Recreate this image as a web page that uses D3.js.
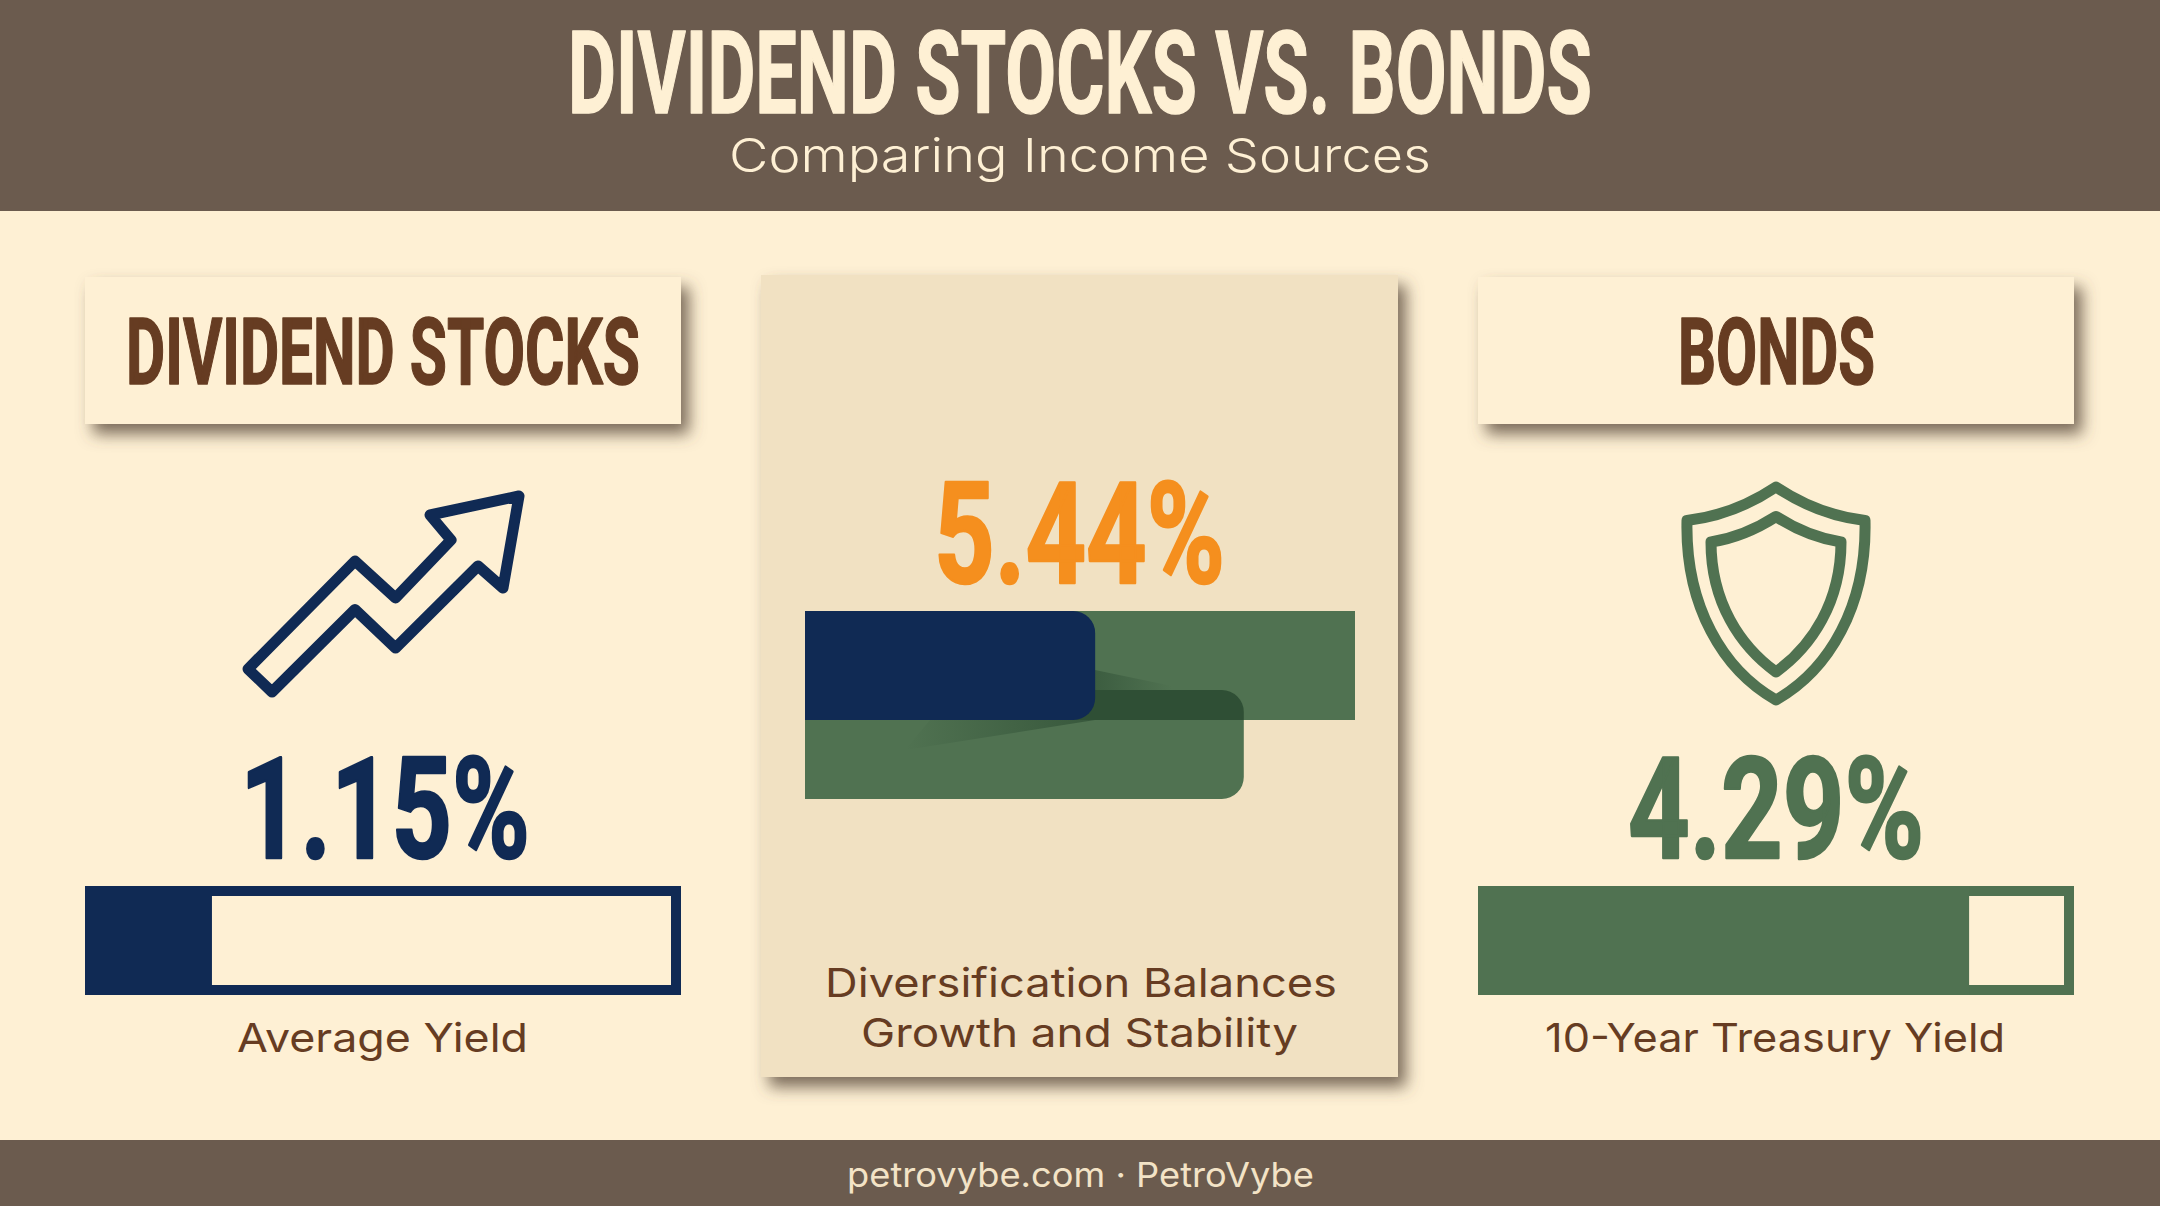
<!DOCTYPE html>
<html>
<head>
<meta charset="utf-8">
<title>Dividend Stocks vs. Bonds</title>
<script src="https://cdn.jsdelivr.net/npm/d3@7"></script>
<style>
  html, body { margin: 0; padding: 0; background: #fdf0d5; }
  svg { display: block; }
</style>
</head>
<body>
<div id="graph"></div>
<script>
// Data ////////////////////////////////////////////////////////////////////////
const categories = ["DIVIDEND STOCKS", "BONDS"];
const yieldLabels = ["1.15%", "4.29%"];
const yieldNames = ["Average Yield", "10-Year Treasury Yield"];
const gaugeShares = [21.3, 82.4]; // percent of the gauge that is filled
const combinedLabel = "5.44%";
const combinedMax = 5.44;
const blendBarValues = [5.44, 4.34, 2.87]; // top green, lower green, navy
const captionLines = ["Diversification Balances", "Growth and Stability"];
const titleText = "DIVIDEND STOCKS VS. BONDS";
const subtitleText = "Comparing Income Sources";
const footerText = "petrovybe.com · PetroVybe";

// Constants ///////////////////////////////////////////////////////////////////
const svgWidth = 2160;
const svgHeight = 1206;

const cream = "#fef0d4";
const tan = "#f1e1c2";
const headerBrown = "#6b5b4e";
const textBrown = "#663c22";
const navy = "#102a54";
const green = "#507251";
const darkGreen = "#2f4f35";
const orange = "#f58f1e";

const condensed = "'Liberation Sans Narrow', Roboto, sans-serif";
const body = "Inter, 'Open Sans', sans-serif";

const svg = d3
  .select("#graph")
  .append("svg")
  .attr("width", svgWidth)
  .attr("height", svgHeight);

// Defs ////////////////////////////////////////////////////////////////////////
const defs = svg.append("defs");

defs
  .append("filter")
  .attr("id", "cardShadow")
  .attr("x", "-10%")
  .attr("y", "-15%")
  .attr("width", "125%")
  .attr("height", "140%")
  .append("feDropShadow")
  .attr("dx", 8)
  .attr("dy", 10)
  .attr("stdDeviation", 8)
  .attr("flood-color", "#5a4a3a")
  .attr("flood-opacity", 0.8);

addFade("fadeLower", 0, 0.75);
addFade("fadeUpper", 0.6, 0);

function addFade(id, from, to) {
  const grad = defs.append("linearGradient").attr("id", id);
  grad.append("stop").attr("offset", "0%").attr("stop-color", darkGreen).attr("stop-opacity", from);
  grad.append("stop").attr("offset", "100%").attr("stop-color", darkGreen).attr("stop-opacity", to);
}

// Background //////////////////////////////////////////////////////////////////
svg.append("rect").attr("width", svgWidth).attr("height", svgHeight).attr("fill", cream);
svg.append("rect").attr("width", svgWidth).attr("height", 211).attr("fill", headerBrown);
svg.append("rect").attr("y", 1140).attr("width", svgWidth).attr("height", 66).attr("fill", headerBrown);

heavy(fitText(svg, titleText, 568, 1592, 113, 115, cream, condensed, 700), cream, 1.5);
fitText(svg, subtitleText, 729, 1431, 172, 47, cream, body, 300);
fitText(svg, footerText, 847, 1314, 1187, 34, "#f3e3c6", body, 400);

// Side columns ////////////////////////////////////////////////////////////////
drawColumn(0, 85, 681, navy);
drawColumn(1, 1478, 2074, green);

function drawColumn(i, left, right, color) {
  const width = right - left;

  svg
    .append("rect")
    .attr("x", left)
    .attr("y", 277)
    .attr("width", width)
    .attr("height", 147)
    .attr("fill", cream)
    .attr("filter", "url(#cardShadow)");

  const headerBox = i === 0 ? [126, 640] : [1678, 1875];
  heavy(fitText(svg, categories[i], headerBox[0], headerBox[1], 384, 92, textBrown, condensed, 700), textBrown, 1.5);

  const valueBox = i === 0 ? [240, 530] : [1628, 1924];
  heavy(fitText(svg, yieldLabels[i], valueBox[0], valueBox[1], 858, 141, color, condensed, 700), color, 2.5);

  // Gauge
  const x = d3.scaleLinear().domain([0, 100]).range([left, right]);

  svg
    .append("rect")
    .attr("x", x(0) + 5)
    .attr("y", 891)
    .attr("width", x(100) - x(0) - 10)
    .attr("height", 99)
    .attr("fill", "none")
    .attr("stroke", color)
    .attr("stroke-width", 10);

  svg
    .append("rect")
    .attr("x", x(0))
    .attr("y", 886)
    .attr("width", x(gaugeShares[i]) - x(0))
    .attr("height", 109)
    .attr("fill", color);

  const nameBox = i === 0 ? [237, 528] : [1545, 2005];
  fitText(svg, yieldNames[i], nameBox[0], nameBox[1], 1052, 40, textBrown, body, 400);
}

// Center card /////////////////////////////////////////////////////////////////
svg
  .append("rect")
  .attr("x", 761)
  .attr("y", 275)
  .attr("width", 637)
  .attr("height", 802)
  .attr("fill", tan)
  .attr("filter", "url(#cardShadow)");

heavy(fitText(svg, combinedLabel, 934, 1225, 583, 141, orange, condensed, 700), orange, 2.5);

const blendX = d3.scaleLinear().domain([0, combinedMax]).range([805, 1355]);

svg
  .append("rect")
  .attr("x", blendX(0))
  .attr("y", 611)
  .attr("width", blendX(blendBarValues[0]) - blendX(0))
  .attr("height", 109)
  .attr("fill", green);

const lowerBar = roundedRight(blendX(0), 690, blendX(blendBarValues[1]), 799, 22);

svg.append("path").attr("d", lowerBar).attr("fill", green);

defs
  .append("clipPath")
  .attr("id", "overlapClip")
  .append("rect")
  .attr("x", blendX(0))
  .attr("y", 690)
  .attr("width", blendX(blendBarValues[0]) - blendX(0))
  .attr("height", 30);

svg
  .append("path")
  .attr("d", lowerBar)
  .attr("fill", darkGreen)
  .attr("clip-path", "url(#overlapClip)");

// soft shadow wedges that fall off the navy bar
const wedge = d3.line();

svg
  .append("path")
  .attr("d", wedge([[905, 750], [1095, 720], [930, 720]]) + "Z")
  .attr("fill", "url(#fadeLower)");

svg
  .append("path")
  .attr("d", wedge([[1095, 670], [1172, 686], [1172, 690], [1095, 690]]) + "Z")
  .attr("fill", "url(#fadeUpper)");

svg
  .append("path")
  .attr("d", roundedRight(blendX(0), 611, blendX(blendBarValues[2]), 720, 22))
  .attr("fill", navy);

fitText(svg, captionLines[0], 825, 1337, 997, 40, textBrown, body, 400);
fitText(svg, captionLines[1], 861, 1298, 1047, 40, textBrown, body, 400);

// Icons ///////////////////////////////////////////////////////////////////////
const arrowShape = [
  [248, 669], [355, 561], [395.5, 598], [451, 540], [430, 515], [519, 496],
  [503, 588], [478, 566], [395.5, 648], [355, 609.5], [272, 692]
];

svg
  .append("path")
  .attr("d", d3.line()(arrowShape) + "Z")
  .attr("fill", "none")
  .attr("stroke", navy)
  .attr("stroke-width", 11)
  .attr("stroke-linejoin", "round");

drawShield(1776, 487, 89, 520.5, 42, 515, 91, 606, 53, 670, 700);
drawShield(1776, 516.5, 65, 542, 32, 537, 65, 602, 36, 646, 672);

function drawShield(cx, top, shoulderW, shoulderY, qx, qy, c1x, c1y, c2x, c2y, bottom) {
  const p = d3.path();
  p.moveTo(cx, top);
  p.quadraticCurveTo(cx + qx, qy, cx + shoulderW, shoulderY);
  p.bezierCurveTo(cx + c1x, c1y, cx + c2x, c2y, cx, bottom);
  p.bezierCurveTo(cx - c2x, c2y, cx - c1x, c1y, cx - shoulderW, shoulderY);
  p.quadraticCurveTo(cx - qx, qy, cx, top);
  p.closePath();

  svg
    .append("path")
    .attr("d", p.toString())
    .attr("fill", "none")
    .attr("stroke", green)
    .attr("stroke-width", 11)
    .attr("stroke-linejoin", "round");
}

// Utils ///////////////////////////////////////////////////////////////////////
function roundedRight(x0, y0, x1, y1, r) {
  const p = d3.path();
  p.moveTo(x0, y0);
  p.lineTo(x1 - r, y0);
  p.arcTo(x1, y0, x1, y0 + r, r);
  p.lineTo(x1, y1 - r);
  p.arcTo(x1, y1, x1 - r, y1, r);
  p.lineTo(x0, y1);
  p.closePath();
  return p.toString();
}

// squeezes or stretches a text so it runs from x0 to x1
function fitText(parent, str, x0, x1, baseline, size, color, family, weight) {
  const text = parent
    .append("text")
    .attr("text-anchor", "middle")
    .attr("font-family", family)
    .attr("font-weight", weight)
    .attr("font-size", size)
    .attr("fill", color)
    .text(str);

  const sx = (x1 - x0) / text.node().getComputedTextLength();
  text.attr("transform", `translate(${(x0 + x1) / 2}, ${baseline}) scale(${sx}, 1)`);
  return text;
}

// the display face in the reference is heavier than any installed one
function heavy(text, color, width) {
  text.attr("stroke", color).attr("stroke-width", width).attr("stroke-linejoin", "round");
}
</script>
</body>
</html>
